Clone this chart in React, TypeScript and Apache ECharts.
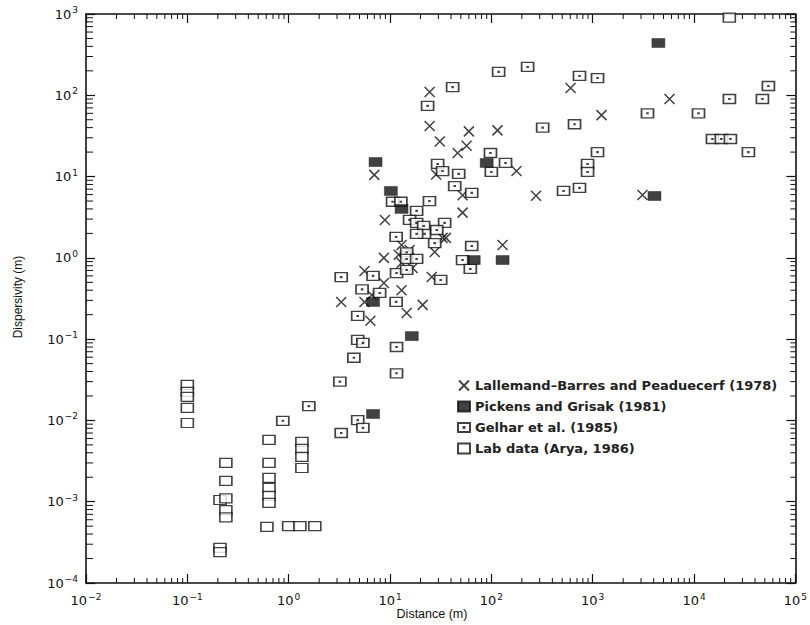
import React, { useEffect, useRef } from 'react';
import * as echarts from 'echarts';

const X_MIN = 0.01;
const X_MAX = 1e5;
const Y_MIN = 1e-4;
const Y_MAX = 1e3;

const seriesNames = [
  'Lallemand–Barres and Peaduecerf (1978)',
  'Pickens and Grisak (1981)',
  'Gelhar et al. (1985)',
  'Lab data (Arya, 1986)',
];

const lallemandX = [24.6, 24.6, 60, 115, 31, 57, 46.5, 177, 28.5, 52, 276, 52, 35.6, 33, 27.6, 129, 25.8, 7.0, 8.9, 13, 15.6, 12.2, 8.7, 13, 5.6, 16.7, 8.7, 6.6, 13, 3.3, 5.6, 21, 14.6, 6.4, 605, 5724, 1222, 3100];
const lallemandY = [110, 42, 36, 37, 27, 24, 19.5, 11.7, 10.6, 5.9, 5.8, 3.6, 1.76, 1.76, 1.18, 1.44, 0.58, 10.5, 2.93, 1.44, 1.25, 1.09, 1.0, 0.865, 0.69, 0.75, 0.49, 0.35, 0.40, 0.287, 0.287, 0.264, 0.21, 0.168, 123, 90, 57, 5.94];

const pickensX = [7.2, 10.2, 13, 90, 67, 129, 6.8, 16.4, 6.8, 4450, 4070];
const pickensY = [15.1, 6.65, 4.0, 14.7, 0.94, 0.94, 0.287, 0.109, 0.012, 440, 5.77];

const gelharX = [4.8, 4.8, 5.4, 4.4, 3.2, 1.58, 0.875, 4.8, 5.4, 3.3, 11.6, 11.6,
  3.3, 6.8, 11.6, 14.6, 5.3, 7.9, 11.5,
  10.6, 12.8, 18.3, 15.6, 18.3, 21.5, 21.9, 18.3, 24.5, 11.5, 14.6, 14.6, 18.3, 34.6, 28.9, 27.6, 64, 52, 62, 31.6,
  41.5, 23.5, 321, 118, 228, 98, 138, 100, 29.5, 33, 47.6, 43.5, 64, 516,
  741, 1116, 3475, 11070, 662, 54200, 22340, 47300, 15200, 18600, 22860, 34400, 1116, 890, 890, 741];
const gelharY = [0.193, 0.098, 0.09, 0.059, 0.03, 0.015, 0.0099, 0.0101, 0.0081, 0.007, 0.08, 0.038,
  0.58, 0.6, 0.65, 0.71, 0.41, 0.37, 0.287,
  4.9, 4.9, 3.78, 2.93, 2.69, 2.47, 1.97, 1.97, 5.0, 1.81, 1.17, 0.97, 0.97, 2.69, 2.2, 1.52, 1.4, 0.94, 0.73, 0.535,
  126, 74, 40, 194, 223, 19.5, 14.7, 11.4, 14.3, 11.7, 10.8, 7.65, 6.3, 6.65,
  173, 163, 60, 60, 44, 130, 90, 90, 29, 29, 29, 20, 20, 14.3, 11.4, 7.25];

const labX = [0.1, 0.1, 0.1, 0.1, 0.1, 0.24, 0.24, 0.21, 0.24, 0.24, 0.24, 0.21, 0.21,
  0.64, 0.64, 0.64, 0.64, 0.64, 0.64, 0.61, 1.35, 1.35, 1.35, 1.35, 1.0, 1.29, 1.81, 22300];
const labY = [0.0273, 0.0224, 0.0195, 0.0143, 0.0093, 0.003, 0.0018, 0.00105, 0.0011, 0.00079, 0.00064, 0.00027, 0.00024,
  0.00575, 0.003, 0.00196, 0.00148, 0.00118, 0.00097, 0.00049, 0.00545, 0.00446, 0.00356, 0.0026, 0.0005, 0.0005, 0.0005, 900];

const xDecades = [-2, -1, 0, 1, 2, 3, 4];
const yDecades = [-4, -3, -2, -1, 0, 1, 2];
const minorMultipliers = [2, 3, 4, 5, 6, 7, 8, 9];

const INK = '#111';
const FONT = 'DejaVu Sans';

const zip = (xs: number[], ys: number[]) => xs.map((x, i) => [x, ys[i]]);

export default function App() {
  const ref = useRef<HTMLDivElement>(null);
  useEffect(() => {
    const chart = echarts.init(ref.current!, null, { renderer: 'svg' });

    const xMinor = xDecades.flatMap((d) => minorMultipliers.map((m) => [m * Math.pow(10, d), 1]));
    const yMinor = yDecades.flatMap((d) => minorMultipliers.map((m) => [1, m * Math.pow(10, d)]));

    const powLabel = (v: number) => {
      const e = Math.round(Math.log10(v));
      const s = e < 0 ? '−' + Math.abs(e) : String(e);
      return '10{s|' + s + '}';
    };
    const rich = {
      s: { fontSize: 9, fontFamily: FONT, color: INK, padding: [0, 0, 8, 1] },
    };

    const baseAxis = {
      type: 'log',
      logBase: 10,
      splitNumber: 7,
      axisLine: { show: true, lineStyle: { color: INK, width: 1.6 } },
      axisTick: { show: true, inside: true, length: 9, lineStyle: { color: INK, width: 1.2 } },
      splitLine: { show: false },
    };

    const minorTickSeries = (isX: boolean, data: number[][]) => ({
      type: 'custom',
      silent: true,
      clip: false,
      xAxisIndex: 0,
      yAxisIndex: 0,
      data,
      z: 1,
      renderItem: (params: any, api: any) => {
        const L = 5;
        const style = { stroke: INK, lineWidth: 1 };
        if (isX) {
          const v = api.value(0);
          const b = api.coord([v, Y_MIN]);
          const t = api.coord([v, Y_MAX]);
          return {
            type: 'group',
            children: [
              { type: 'line', shape: { x1: b[0], y1: b[1], x2: b[0], y2: b[1] - L }, style },
              { type: 'line', shape: { x1: t[0], y1: t[1], x2: t[0], y2: t[1] + L }, style },
            ],
          };
        }
        const v = api.value(1);
        const l = api.coord([X_MIN, v]);
        const r = api.coord([X_MAX, v]);
        return {
          type: 'group',
          children: [
            { type: 'line', shape: { x1: l[0], y1: l[1], x2: l[0] + L + 2, y2: l[1] }, style },
            { type: 'line', shape: { x1: r[0], y1: r[1], x2: r[0] - L, y2: r[1] }, style },
          ],
        };
      },
    });

    const option: any = {
      animation: false,
      backgroundColor: '#fff',
      grid: { left: 86, right: 14, top: 14, bottom: 42 },
      xAxis: [
        {
          ...baseAxis,
          position: 'bottom',
          min: X_MIN,
          max: X_MAX,
          axisLabel: {
            show: true,
            margin: 9,
            formatter: powLabel,
            fontFamily: FONT,
            fontSize: 13,
            color: INK,
            rich,
          },
        },
        {
          ...baseAxis,
          position: 'top',
          min: X_MIN,
          max: X_MAX,
          axisLabel: { show: false },
        },
      ],
      yAxis: [
        {
          ...baseAxis,
          position: 'left',
          min: Y_MIN,
          max: Y_MAX,
          axisLabel: {
            show: true,
            margin: 8,
            formatter: powLabel,
            fontFamily: FONT,
            fontSize: 13,
            color: INK,
            rich,
          },
        },
        {
          ...baseAxis,
          position: 'right',
          min: Y_MIN,
          max: Y_MAX,
          axisLabel: { show: false },
        },
      ],
      legend: {
        orient: 'vertical',
        left: 452,
        top: 374,
        itemWidth: 12,
        itemHeight: 10,
        itemGap: 8,
        textStyle: { fontFamily: FONT, fontSize: 13, fontWeight: 'bold', color: '#222' },
        data: seriesNames,
      },
      graphic: [
        {
          type: 'text',
          x: 432,
          y: 614,
          style: {
            text: 'Distance (m)',
            fontFamily: 'Liberation Sans',
            fontSize: 12.5,
            fill: INK,
            textAlign: 'center',
            textVerticalAlign: 'middle',
          },
        },
        {
          type: 'text',
          x: 18,
          y: 297,
          rotation: Math.PI / 2,
          style: {
            text: 'Dispersivity (m)',
            fontFamily: 'Liberation Sans',
            fontSize: 12,
            fill: INK,
            textAlign: 'center',
            textVerticalAlign: 'middle',
          },
        },
      ],
      series: [
        minorTickSeries(true, xMinor),
        minorTickSeries(false, yMinor),
        {
          name: seriesNames[0],
          type: 'scatter',
          data: zip(lallemandX, lallemandY),
          symbol: 'path://M0,0L10,10M10,0L0,10',
          symbolSize: [10, 10],
          itemStyle: { color: 'transparent', borderColor: INK, borderWidth: 1.5 },
          z: 3,
        },
        {
          name: seriesNames[2],
          type: 'scatter',
          data: zip(gelharX, gelharY),
          symbol: 'path://M0,0H12V9H0Z M5.6,4.1H6.4V4.9H5.6Z',
          symbolSize: [12, 9],
          itemStyle: { color: '#fff', borderColor: INK, borderWidth: 1.5 },
          z: 4,
        },
        {
          name: seriesNames[1],
          type: 'scatter',
          data: zip(pickensX, pickensY),
          symbol: 'rect',
          symbolSize: [13, 9],
          itemStyle: { color: INK, borderColor: INK, borderWidth: 0.5 },
          z: 5,
        },
        {
          name: seriesNames[3],
          type: 'scatter',
          data: zip(labX, labY),
          symbol: 'rect',
          symbolSize: [12, 9],
          itemStyle: { color: '#fff', borderColor: INK, borderWidth: 1.4 },
          z: 4,
        },
      ],
    };

    chart.setOption(option);
    return () => chart.dispose();
  }, []);

  return (
    <div
      ref={ref}
      style={{ position: 'absolute', left: 0, top: 0, width: 810, height: 625, background: '#fff' }}
    />
  );
}
